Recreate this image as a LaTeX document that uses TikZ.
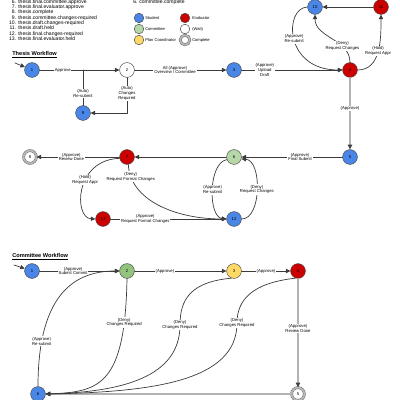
\documentclass[tikz,border=0pt]{standalone}
\usepackage{fontspec}
\setmainfont{Liberation Sans}
\usetikzlibrary{arrows.meta}
\definecolor{stud}{HTML}{4A86E8}
\definecolor{eval}{HTML}{CC0000}
\definecolor{comm}{HTML}{B6D7A8}
\definecolor{commdk}{HTML}{93C47D}
\definecolor{plan}{HTML}{FFD966}
\definecolor{edgec}{HTML}{3C3C3C}
\begin{document}
\begin{tikzpicture}[x=0.025cm,y=0.025cm, line join=round, line cap=round,
	st/.style={circle,draw=black!70,line width=0.35pt,minimum size=0.37cm,inner sep=0pt,font=\fontsize{3}{3}\selectfont},
	student/.style={st,fill=stud},
	evaluator/.style={st,fill=eval},
	committee/.style={st,fill=comm},
	commdone/.style={st,fill=commdk},
	plancoord/.style={st,fill=plan},
	waitnode/.style={st,fill=white},
	done/.style={st,fill=white,draw=black!60,double=gray!55,double distance=1.2pt,minimum size=0.32cm},
	key/.style={minimum size=0.24cm},
	flow/.style={draw=edgec,line width=0.5pt,-{Triangle[length=3.2pt,width=3pt]}},
	plain/.style={draw=edgec,line width=0.5pt},
	mainflow/.style={draw=black!30,line width=1pt,-{Triangle[length=3.4pt,width=3.2pt,color=black!75]}},
	lbl/.style={fill=white,inner sep=0.6pt,align=center,font=\fontsize{3}{3.4}\selectfont},
	listtxt/.style={inner sep=0pt,font=\fontsize{3.6}{3.8}\selectfont},
	legtxt/.style={inner sep=0pt,anchor=west,font=\fontsize{2.9}{3.2}\selectfont},
	head/.style={inner sep=0pt,anchor=west,font=\fontsize{4}{4}\selectfont\bfseries}]
	\useasboundingbox (0,0) rectangle (400,-400);
	% event list
	\foreach \n/\txt [count=\i] in {6/thesis.final.committee.approve,7/thesis.final.evaluator.approve,8/thesis.complete,9/thesis.committee.changes-required,10/thesis.draft.changes-required,11/thesis.draft.held,12/thesis.final.changes-required,13/thesis.final.evaluator.held}
	{
		\node[listtxt,anchor=base east] (ln\n) at (16.5,{-3.3-5.33*(\i-1)}) {\n.};
		\node[listtxt,anchor=base west] (lt\n) at (18,{-3.3-5.33*(\i-1)}) {\txt};
	}
	\node[listtxt,anchor=base west] (lc6) at (133,-3.3) {6. committee.complete};
	% legend
	\foreach \sty/\y/\txt in {student/18/Student,committee/29/Committee,plancoord/40/Plan Coordinator}
	{
		\node[\sty,key] (ka\y) at (139,-\y) {};
		\node[legtxt] (kat\y) at (145,-\y) {\txt};
	}
	\foreach \sty/\y/\txt in {evaluator/18/Evaluator,waitnode/29/(Wait),done/40/Complete / End}
	{
		\node[\sty,key] (kb\y) at (185,-\y) {};
		\node[legtxt] (kbt\y) at (192,-\y) {\txt};
	}
	% thesis workflow
	\node[head] (hthesis) at (12,-55) {\underline{Thesis Workflow}};
	\foreach \n/\sty/\x/\y in {1/student/32/70,2/waitnode/127/70,3/student/234/70,4/evaluator/350/70,10/student/315/7,11/evaluator/381/7,9/student/83/113,5/student/350/157,6/committee/234/157,7/evaluator/127/157,8/done/30/157,13/evaluator/103/219,12/student/234/219}
	\node[\sty] (t\n) at (\x,-\y) {\n};
	\coordinate (s1) at (15,-63);
	\coordinate (j9) at (t9 |- t1);
	\draw[flow] (s1) -- (t1);
	\draw[flow] (t1) -- node[lbl,pos=0.29]{Approve} (t2);
	\draw[plain] (t9) -- node[lbl,pos=0.33]{(Auto)\\Re-submit} (j9);
	\draw[flow] (t2) |- node[lbl,pos=0.22]{(Auto)\\Changes\\Required} (t9);
	\draw[flow] (t2) -- node[lbl,pos=0.44]{All (Approve)\\Overview / Committee} (t3);
	\draw[flow] (t3) -- node[lbl,pos=0.23]{(Approve)\\Upload\\Draft} (t4);
	\draw[flow] (t4) to[out=90,in=-90] node[lbl,pos=0.3]{(Deny)\\Request Changes} (t10);
	\draw[flow] (t10.west) .. controls (284,-8) and (284,-70) .. node[lbl]{(Approve)\\Re-submit} (t4.west);
	\draw[flow] (t4) to[out=0,in=-90] node[lbl]{(Hold)\\Request Appr} (t11);
	\draw[flow] (t11) -- (t10);
	\draw[mainflow] (t4) -- node[lbl,pos=0.43]{(Approve)} (t5);
	\draw[flow] (t5) -- node[lbl,pos=0.42]{(Approve)\\Final Submit} (t6);
	\draw[flow] (t6) -- (t7);
	\draw[flow] (t7) -- node[lbl,pos=0.58]{(Approve)\\Review Done} (t8);
	\draw[flow] (t7.190) .. controls (74,-160) and (74,-218) .. node[lbl,pos=0.4]{(Hold)\\Request Appr} (t13.west);
	\draw[flow] (t7.-80) .. controls (130,-200) and (175,-219) .. node[lbl,pos=0.12]{(Deny)\\Request Format Changes} (t12.west);
	\draw[flow] (t13) -- node[lbl,pos=0.3]{(Approve)\\Request Format Changes} (t12);
	\draw[flow] (t6.200) .. controls (208,-163) and (208,-217) .. node[lbl]{(Approve)\\Re-submit} (t12.west);
	\draw[flow] (t12.east) .. controls (262,-219) and (262,-160) .. node[lbl]{(Deny)\\Request Changes} (t6.-15);
	% committee workflow
	\node[head] (hcomm) at (12,-257) {\underline{Committee Workflow}};
	\foreach \n/\sty/\x/\y in {1/student/32/271,2/commdone/127/271,3/plancoord/234/271,4/evaluator/298/271,5/done/298/394,6/student/38/394}
	\node[\sty] (c\n) at (\x,-\y) {\n};
	\coordinate (s2) at (14,-265);
	\draw[flow] (s2) -- (c1);
	\draw[flow] (c1) -- node[lbl,pos=0.42]{(Approve)\\Submit Commit} (c2);
	\draw[flow] (c2) -- node[lbl,pos=0.33]{(Approve)} (c3);
	\draw[flow] (c3) -- node[lbl]{(Approve)} (c4);
	\draw[mainflow] (c4) -- node[lbl,pos=0.46]{(Approve)\\Review Done} (c5);
	\draw[mainflow] (c5) -- (c6);
	\draw[flow] (c6.north) .. controls (38,-300) and (70,-271) .. node[lbl,pos=0.2]{(Approve)\\Re-submit} (c2.west);
	\draw[flow] (c2.south) .. controls (125,-385) and (100,-392) .. node[lbl,pos=0.16]{(Deny)\\Changes Required} (c6.east);
	\draw[flow] (c3.250) .. controls (190,-282) and (180,-300) .. (180,-325) node[lbl]{(Deny)\\Changes Required} .. controls (180,-378) and (120,-392) .. (c6.east);
	\draw[flow] (c4.250) .. controls (252,-283) and (237,-300) .. (237,-323) node[lbl]{(Deny)\\Changes Required} .. controls (237,-382) and (150,-392) .. (c6.east);
\end{tikzpicture}
\end{document}
